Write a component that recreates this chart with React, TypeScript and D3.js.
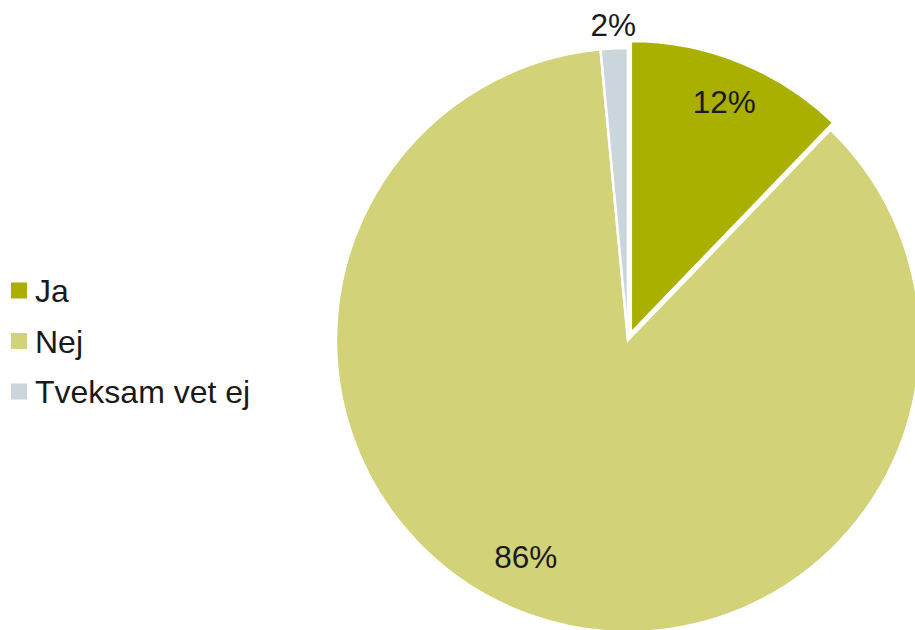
import { useRef, useEffect } from 'react';
import * as d3 from 'd3';

const categories = ['Ja', 'Nej', 'Tveksam vet ej'];
const values = [12.2, 86.3, 1.5];
const labels = ['12%', '86%', '2%'];
const colors = ['#aab000', '#d2d279', '#cad6dc'];

// explode offset (px) per slice, label radius as fraction of R, angle nudge (deg)
const explode = [7.5, 0, 0];
const labelRadius = [0.855, 0.82, 1.08];
const labelNudge = [0, 6, 0];

const W = 915;
const H = 630;
const FONT = '"Liberation Sans", Arial, sans-serif';

export default function App() {
  const ref = useRef<SVGSVGElement>(null);

  useEffect(() => {
    if (!ref.current) return;
    const svg = d3.select(ref.current);
    svg.selectAll('*').remove();

    const cx = 628;
    const cy = 340;
    const R = 292;

    const data = categories.map((c, i) => ({ label: c, value: values[i] }));
    type D = typeof data[0];
    const pie = d3.pie<D>().value(d => d.value).sort(null);
    const arcs = pie(data);
    const arc = d3.arc<d3.PieArcDatum<D>>().innerRadius(0).outerRadius(R);

    const g = svg.append('g').attr('transform', `translate(${cx},${cy})`);

    const offsetOf = (d: d3.PieArcDatum<D>) => {
      const mid = (d.startAngle + d.endAngle) / 2;
      const e = explode[d.index];
      return [Math.sin(mid) * e, -Math.cos(mid) * e];
    };

    g.selectAll('path')
      .data(arcs)
      .join('path')
      .attr('d', arc)
      .attr('transform', d => {
        const [ox, oy] = offsetOf(d);
        return `translate(${ox},${oy})`;
      })
      .attr('fill', d => colors[d.index])
      .attr('stroke', '#ffffff')
      .attr('stroke-width', 2.5);

    // data labels
    const labelPos = (d: d3.PieArcDatum<D>) => {
      const mid = (d.startAngle + d.endAngle) / 2 + (labelNudge[d.index] * Math.PI) / 180;
      const [ox, oy] = offsetOf(d);
      const r = R * labelRadius[d.index];
      return [ox + Math.sin(mid) * r, oy - Math.cos(mid) * r];
    };

    g.selectAll('text.lbl')
      .data(arcs)
      .join('text')
      .attr('class', 'lbl')
      .attr('x', d => labelPos(d)[0])
      .attr('y', d => labelPos(d)[1])
      .attr('dy', '0.36em')
      .attr('text-anchor', 'middle')
      .attr('font-family', FONT)
      .attr('font-size', 31.5)
      .attr('fill', '#1a1a1a')
      .text(d => labels[d.index]);

    // legend
    const legend = svg.append('g').attr('transform', 'translate(11,0)');
    const rowY = d3.scalePoint<string>().domain(categories).range([291, 392]);
    const row = legend.selectAll('g')
      .data(categories)
      .join('g')
      .attr('transform', d => `translate(0,${rowY(d)})`);
    row.append('rect')
      .attr('x', 0)
      .attr('y', -8.5)
      .attr('width', 16)
      .attr('height', 16)
      .attr('fill', (_, i) => colors[i]);
    row.append('text')
      .attr('x', 24)
      .attr('y', 0)
      .attr('dy', '0.35em')
      .attr('font-family', FONT)
      .attr('font-size', 32)
      .attr('fill', '#1a1a1a')
      .text(d => d);
  }, []);

  return (
    <svg
      ref={ref}
      width={W}
      height={H}
      style={{ position: 'absolute', left: 0, top: 0, background: '#ffffff' }}
    />
  );
}
